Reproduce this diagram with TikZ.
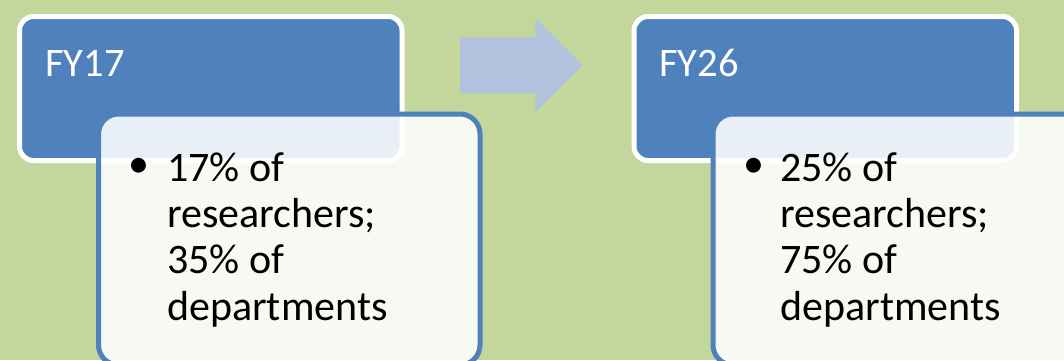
\documentclass[tikz,border=0pt]{standalone}
\usepackage{fontspec}
\setmainfont{Carlito}
\definecolor{bgc}{HTML}{C3D69B}
\definecolor{blu}{HTML}{4F81BD}
\definecolor{arrc}{HTML}{B0C2DE}
\begin{document}
\begin{tikzpicture}[x=1pt,y=-1pt,
  bluebox/.style={draw=white,line width=5pt,fill=blu,rounded corners=14pt,
    minimum width=382.5pt,minimum height=144pt,inner sep=0pt},
  notebox/.style={draw=blu,line width=5pt,fill=white,fill opacity=0.88,draw opacity=1,
    rounded corners=20pt,minimum width=381.5pt,minimum height=251pt,inner sep=0pt},
  headtxt/.style={anchor=base west,text=white,inner sep=0pt,font=\fontsize{40.5}{48}\selectfont},
  bultxt/.style={anchor=center,inner sep=0pt,font=\fontsize{42}{46}\selectfont},
  bodytxt/.style={anchor=base west,inner sep=0pt,align=left,font=\fontsize{42}{46.1}\selectfont}]
\fill[bgc] (0,0) rectangle (1064,360);
\useasboundingbox (0,0) rectangle (1064,360);
% left pair
\node[bluebox] (b1) at (210.75,88.5) {};
\node[notebox] (w1) at (289.25,239.5) {};
\node[headtxt] (h1) at (45,76) {FY17};
\node[bultxt] (d1) at (139,168) {•};
\node[bodytxt] (t1) at (167,320) {17\% of\\researchers;\\35\% of\\departments};
% arrow
\fill[arrc] (460,37) -- (535.5,37) -- (535.5,18) -- (582.5,65) -- (535.5,112) -- (535.5,93) -- (460,93) -- cycle;
% right pair
\node[bluebox] (b2) at (825.25,88.5) {};
\node[notebox] (w2) at (903.75,239.5) {};
\node[headtxt] (h2) at (659,76) {FY26};
\node[bultxt] (d2) at (754,168) {•};
\node[bodytxt] (t2) at (780,320) {25\% of\\researchers;\\75\% of\\departments};
\end{tikzpicture}
\end{document}
